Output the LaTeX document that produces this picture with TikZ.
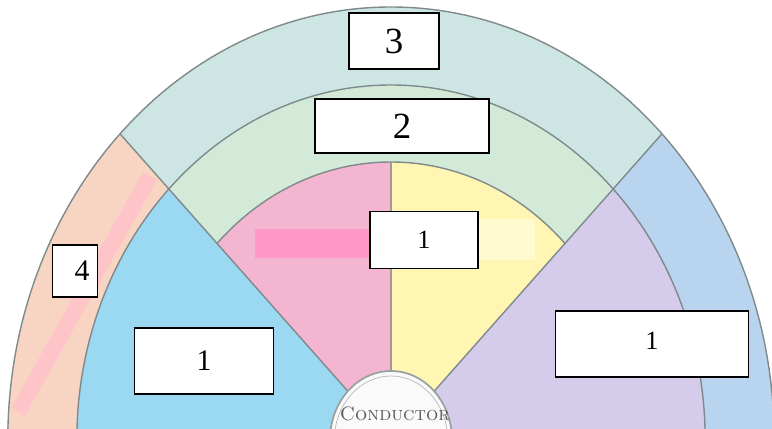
\documentclass[tikz,border=0pt]{standalone}
\usepackage{fontspec}
\usepackage{xcolor}
\usepackage{tikz}
\usetikzlibrary{positioning}
\newfontfamily\numfont{Liberation Serif}
\definecolor{ringthree}{HTML}{CDE6E4}
\definecolor{ringtwo}{HTML}{D3EAD9}
\definecolor{salmon}{HTML}{F8D5C3}
\definecolor{skyout}{HTML}{B9D4EE}
\definecolor{bluein}{HTML}{9BD8F2}
\definecolor{lavender}{HTML}{D4CCEA}
\definecolor{pinkin}{HTML}{F4B5D0}
\definecolor{yellowin}{HTML}{FFF6B4}
\definecolor{pinkbar}{HTML}{FF97C7}
\definecolor{yellowbar}{HTML}{FFFBCF}
\definecolor{salmonbar}{HTML}{FFC4C8}
\definecolor{edge}{HTML}{808A8A}

\begin{document}
\begin{tikzpicture}[
  x=0.02cm, y=0.02cm,
  ring/.style={draw=edge, line width=0.8pt},
  numbox/.style={draw=black, fill=white, line width=1.1pt, inner sep=0pt},
  big/.style={numbox, font=\numfont\fontsize{21}{24}\selectfont},
  mid/.style={numbox, font=\numfont\fontsize{17}{20}\selectfont},
  small/.style={numbox, font=\numfont\fontsize{15}{18}\selectfont}
]
\useasboundingbox (0,0) rectangle (772,429);
\fill[white] (0,0) rectangle (772,429);

\begin{scope}
\clip (0,0) rectangle (772,429);
\begin{scope}[shift={(391,-11)}, xscale=0.885]
% outer band
\fill[ringthree] (0,0) -- (45:433) arc (45:135:433) -- cycle;
\fill[salmon] (0,0) -- (135:433) arc (135:180:433) -- cycle;
\fill[skyout] (0,0) -- (0:433) arc (0:45:433) -- cycle;
% middle band
\fill[ringtwo] (0,0) -- (45:355) arc (45:135:355) -- cycle;
\fill[bluein] (0,0) -- (135:355) arc (135:180:355) -- cycle;
\fill[lavender] (0,0) -- (0:355) arc (0:45:355) -- cycle;
% core
\fill[pinkin] (0,0) -- (90:278) arc (90:135:278) -- cycle;
\fill[yellowin] (0,0) -- (45:278) arc (45:90:278) -- cycle;
\end{scope}

% highlight bars
\fill[pinkbar] (255,171) rectangle (372,200);
\fill[yellowbar] (440,169) rectangle (535,210);
\draw[salmonbar, line width=0.32cm] (150,253) -- (18,17);

\begin{scope}[shift={(391,-11)}, xscale=0.885]
\draw[ring] (0:433) arc (0:180:433);
\draw[ring] (0:355) arc (0:180:355);
\draw[ring] (45:278) arc (45:135:278);
\draw[ring] (0,0) -- (45:433);
\draw[ring] (0,0) -- (135:433);
\draw[ring, draw=edge!70!pinkin] (0,0) -- (90:278);
% conductor
\fill[white!96!gray] (0,0) circle (69);
\draw[edge!80, line width=1pt] (0,0) circle (69);
\draw[edge!60, line width=0.4pt] (0,0) circle (64);
\end{scope}
\end{scope}

\node[text=black!65, font=\fontsize{11}{13}\selectfont] (cond) at (395,15) {\textsc{Conductor}};

% number boxes
\node[big, minimum width=1.8cm, minimum height=1.12cm] (outer) at (394,388) {3};
\node[big, minimum width=3.48cm, minimum height=1.08cm] (middle) at (402,303) {2};
\node[small, minimum width=2.16cm, minimum height=1.14cm] (core) at (424,189) {1};
\node[mid, minimum width=0.9cm, minimum height=1.04cm] (left) at (75,158) {\hspace*{8pt}4};
\node[mid, minimum width=2.78cm, minimum height=1.32cm] (blue) at (204,68) {1};
\node[small, minimum width=3.86cm, minimum height=1.32cm] (lilac) at (652,85) {\raisebox{4pt}{1}};
\end{tikzpicture}
\end{document}
